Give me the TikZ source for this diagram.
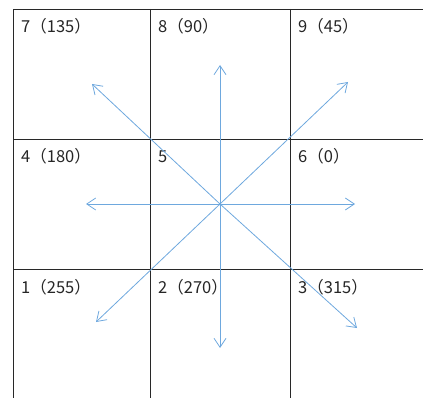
\documentclass[tikz,border=0pt]{standalone}
\usepackage{fontspec}
\newfontfamily\cjk{Noto Sans CJK SC}
\usepackage{tikz}
\usetikzlibrary{arrows.meta}
\definecolor{ArrowBlue}{RGB}{110,168,222}
\definecolor{GridGray}{RGB}{40,40,40}

\begin{document}
\begin{tikzpicture}[
    x=1pt, y=-1pt,
    grid line/.style={draw=GridGray, line width=0.9pt},
    dir arrow/.style={draw=ArrowBlue, line width=0.8pt, -{Straight Barb[length=9pt, width=12pt]}},
    cell label/.style={anchor=base west, inner sep=0pt, text=black!85, font=\cjk\fontsize{16.5}{19}\selectfont}
]
    \useasboundingbox (0,0) rectangle (423,398);
    % grid
    \draw[grid line] (13,398) -- (13,9) -- (423,9);
    \draw[grid line] (150,9) -- (150,398);
    \draw[grid line] (290,9) -- (290,398);
    \draw[grid line] (13,139) -- (423,139);
    \draw[grid line] (13,269) -- (423,269);
    % cell labels
    \foreach \px/\py/\name/\txt in {13/9/c7/7（135）, 150/9/c8/8（90）, 290/9/c9/9（45）,
        13/139/c4/4（180）, 150/139/c5/5, 290/139/c6/6（0）,
        13/269/c1/1（255）, 150/269/c2/2（270）, 290/269/c3/3（315）}
        \node[cell label] (\name) at (\px+8,\py+24) {\txt};
    % directions
    \coordinate (o) at (220,204);
    \coordinate (d0) at (355,204);
    \coordinate (d45) at (348,82);
    \coordinate (d90) at (220,65);
    \coordinate (d135) at (92,84);
    \coordinate (d180) at (86,204);
    \coordinate (d225) at (96,322);
    \coordinate (d270) at (220,348);
    \coordinate (d315) at (357,328);
    \foreach \d in {d0,d45,d90,d135,d180,d225,d270,d315}
        \draw[dir arrow] (o) -- (\d);
\end{tikzpicture}
\end{document}
